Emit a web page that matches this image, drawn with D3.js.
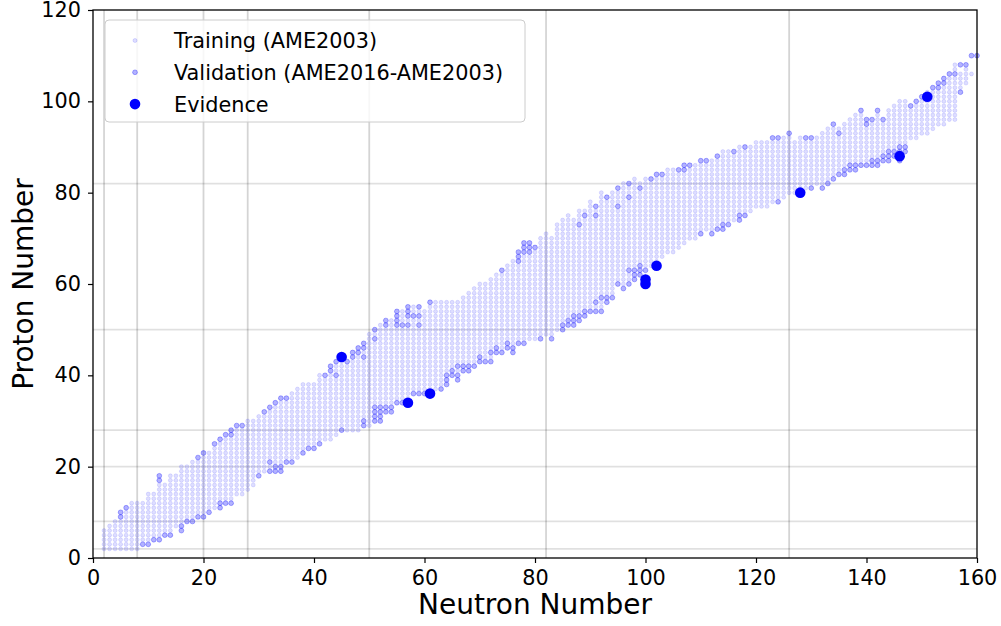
<!DOCTYPE html>
<html>
<head>
<meta charset="utf-8">
<script src="https://cdn.jsdelivr.net/npm/d3@7"></script>
<style>
  body { margin: 0; background: #fff; }
  text { font-family: "DejaVu Sans", sans-serif; }
</style>
</head>
<body>
<div id="chart-area"></div>
<script>
// training band (AME2003): lowest and highest proton number for each neutron number, from N = 2
let trainStartN = 2;
let trainZmin = [
    2, 2, 2, 2, 2, 2, 2, 4, 4, 5, 5, 6, 6, 7, 8, 9, 9, 10, 10, 11,
    11, 13, 13, 13, 14, 14, 15, 16, 19, 19, 20, 21, 21, 22, 22, 22, 24, 25, 25, 26,
    26, 26, 27, 29, 28, 28, 28, 31, 29, 34, 34, 34, 34, 35, 35, 35, 37, 37, 37, 37,
    37, 38, 41, 42, 41, 43, 43, 43, 45, 44, 44, 47, 46, 48, 47, 48, 48, 48, 48, 49,
    49, 49, 50, 52, 53, 54, 54, 55, 55, 55, 55, 58, 58, 61, 60, 61, 64, 65, 64, 64,
    65, 66, 67, 67, 68, 69, 70, 70, 72, 72, 72, 73, 74, 74, 74, 76, 76, 76, 77, 77,
    77, 78, 79, 79, 80, 80, 81, 81, 82, 82, 82, 83, 84, 85, 86, 87, 87, 87, 87, 88,
    88, 89, 90, 90, 91, 91, 92, 92, 93, 93, 94, 95, 95, 96, 96, 103, 104, 106
];
let trainZmax = [
    6, 7, 8, 8, 10, 12, 12, 12, 14, 14, 16, 16, 18, 18, 20, 20, 21, 21, 22, 23,
    24, 25, 26, 26, 28, 28, 30, 30, 31, 31, 32, 33, 34, 34, 36, 37, 38, 38, 38, 40,
    39, 40, 42, 43, 42, 43, 44, 45, 49, 49, 51, 50, 52, 50, 54, 52, 55, 54, 54, 55,
    56, 56, 56, 56, 56, 57, 58, 59, 60, 60, 61, 62, 62, 64, 65, 64, 66, 66, 67, 70,
    71, 70, 73, 74, 75, 74, 76, 76, 78, 76, 80, 78, 80, 80, 82, 81, 83, 82, 83, 82,
    83, 83, 85, 85, 84, 84, 85, 86, 86, 86, 87, 87, 89, 89, 88, 90, 89, 90, 91, 91,
    91, 91, 91, 92, 92, 91, 92, 91, 91, 92, 93, 94, 94, 94, 95, 96, 97, 97, 94, 95,
    97, 95, 98, 99, 100, 100, 98, 99, 100, 102, 102, 102, 103, 105, 108, 106, 107, 106
];

// validation (AME2016-AME2003): [N, Z]
let validation = [
    [5,9],[5,10],[6,11],[12,17],[12,18],[19,22],[20,23],[22,25],[23,26],[24,27],[25,27],[25,28],
    [26,29],[27,29],[31,32],[32,33],[33,34],[34,35],[35,35],[42,40],[43,41],[43,42],[44,40],[44,43],
    [46,43],[47,44],[47,45],[48,45],[48,46],[49,46],[49,47],[49,44],
    [9,3],[10,3],[11,4],[12,4],[13,5],[14,5],[16,6],[16,7],[17,8],[18,8],[19,9],[20,9],[21,10],
    [23,11],[23,12],[24,12],[25,12],[30,18],[32,19],[33,19],[34,19],[33,20],[34,20],[32,21],[35,21],
    [36,21],[38,23],[39,24],[40,24],[41,25],[45,28],[49,29],[49,30],
    [51,50],[51,48],[53,52],[53,51],[55,54],[55,53],[55,52],[55,51],[56,51],[57,51],[57,55],[57,54],
    [57,53],[58,53],[59,53],[59,55],[59,51],[61,56],[74,63],[77,67],[77,66],[77,65],[78,69],[78,68],
    [78,67],[79,69],[79,68],[79,67],[80,68],[88,73],[89,75],[91,77],[91,75],[93,79],[95,81],[95,77],
    [97,82],[97,79],[99,81],[101,83],[102,84],[103,84],[106,85],[107,86],[107,85],[108,86],[110,87],
    [111,87],[113,88],[116,89],[118,90],[123,92],[124,92],[126,93],[129,92],[130,92],
    [134,95],[135,93],[139,98],[140,96],[140,95],[141,96],[142,98],[143,96],[148,99],[149,100],
    [150,101],[152,103],[153,104],[153,103],[154,105],[154,104],[155,106],[156,106],[157,108],
    [158,108],[159,110],[160,110],[157,102],
    [51,33],[51,32],[51,31],[51,30],[52,33],[52,32],[52,31],[52,30],[53,33],[53,32],[54,33],[54,32],
    [55,34],[56,34],[58,36],[59,36],[60,36],[63,37],[64,40],[64,39],[64,38],[65,41],[65,40],[66,42],
    [66,40],[66,39],[67,42],[67,41],[68,42],[68,41],[69,42],[70,44],[70,43],[71,43],[72,43],[72,45],
    [73,46],[73,45],[74,45],[75,47],[75,46],[76,46],[76,45],[77,47],[78,47],[81,48],[83,48],[85,51],
    [85,50],[86,52],[86,51],[87,52],[87,51],[87,53],[88,53],[88,52],[89,54],[89,53],[90,54],[91,54],
    [92,54],[91,56],[92,57],[93,57],[93,56],[94,57],[95,60],[96,59],[97,60],[97,63],[98,63],[99,63],
    [100,63],[99,64],[98,62],[99,62],[98,61],
    [110,71],[112,71],[113,72],[114,72],[114,73],[115,73],[117,74],[117,75],[118,75],[124,78],[130,81],
    [132,81],[133,82],[134,83],[135,84],[136,84],[136,85],[137,85],[137,86],[138,85],[138,86],[139,86],
    [140,86],[141,86],[141,87],[142,86],[142,87],[143,87],[143,88],[144,87],[144,88],[144,89],[145,88],
    [145,89],[146,89],[146,90],[147,89],[147,90],[146,87]
];

// evidence nuclei: [N, Z]
let evidence = [[45,44],[57,34],[61,36],[100,60],[100,61],[102,64],[128,80],[146,88],[151,101]];

// magic numbers drawn as grid lines
let magicN = [2, 8, 20, 28, 50, 82, 126];
let magicZ = [2, 8, 20, 28, 50, 82];

let xTicks = [0, 20, 40, 60, 80, 100, 120, 140, 160];
let yTicks = [0, 20, 40, 60, 80, 100, 120];

let legendLabels = ["Training (AME2003)", "Validation (AME2016-AME2003)", "Evidence"];

let width = 1001, height = 626;
let margin = {top: 10, right: 24, bottom: 68, left: 93};

let svg = d3.select("#chart-area")
        .append("svg")
        .attr("width", width)
        .attr("height", height);

let x = d3.scaleLinear().domain([0, 160]).range([margin.left, width - margin.right]);
let y = d3.scaleLinear().domain([0, 120]).range([height - margin.bottom, margin.top]);

// expand the training band into single nuclides, skipping cells that are validation / evidence
let taken = new Set();
validation.concat(evidence).forEach(d => taken.add(d[0] + "," + d[1]));
let training = [];
trainZmin.forEach((zlo, i) => {
    let n = trainStartN + i;
    for (let z = zlo; z <= trainZmax[i]; z++) {
        if (!taken.has(n + "," + z)) training.push([n, z]);
    }
});

// magic number lines
svg.append("g").selectAll("line")
    .data(magicN)
    .enter()
    .append("line")
    .attr("x1", d => x(d)).attr("x2", d => x(d))
    .attr("y1", y(0)).attr("y2", y(120))
    .attr("stroke", "#000")
    .attr("stroke-opacity", 0.17)
    .attr("stroke-width", 1.8);

svg.append("g").selectAll("line")
    .data(magicZ)
    .enter()
    .append("line")
    .attr("x1", x(0)).attr("x2", x(160))
    .attr("y1", d => y(d)).attr("y2", d => y(d))
    .attr("stroke", "#000")
    .attr("stroke-opacity", 0.12)
    .attr("stroke-width", 1.8);

svg.append("g").selectAll("circle")
    .data(training)
    .enter()
    .append("circle")
    .attr("cx", d => x(d[0]))
    .attr("cy", d => y(d[1]))
    .attr("r", 2)
    .attr("fill", "blue")
    .attr("fill-opacity", 0.13)
    .attr("stroke", "blue")
    .attr("stroke-opacity", 0.13)
    .attr("stroke-width", 0.8);

svg.append("g").selectAll("circle")
    .data(validation)
    .enter()
    .append("circle")
    .attr("cx", d => x(d[0]))
    .attr("cy", d => y(d[1]))
    .attr("r", 2.4)
    .attr("fill", "blue")
    .attr("fill-opacity", 0.3)
    .attr("stroke", "blue")
    .attr("stroke-opacity", 0.3)
    .attr("stroke-width", 1);

svg.append("g").selectAll("circle")
    .data(evidence)
    .enter()
    .append("circle")
    .attr("cx", d => x(d[0]))
    .attr("cy", d => y(d[1]))
    .attr("r", 5.3)
    .attr("fill", "blue");

// axes
let xAxis = svg.append("g")
    .attr("transform", "translate(0," + y(0) + ")")
    .call(d3.axisBottom(x).tickValues(xTicks).tickSize(5).tickPadding(7).tickSizeOuter(0));
let yAxis = svg.append("g")
    .attr("transform", "translate(" + x(0) + ",0)")
    .call(d3.axisLeft(y).tickValues(yTicks).tickSize(5).tickPadding(7).tickSizeOuter(0));
[xAxis, yAxis].forEach(a => {
    a.selectAll("text").style("font-size", "20.8px").attr("fill", "#000");
    a.selectAll("line").attr("stroke", "#000").attr("stroke-width", 1.2);
    a.select(".domain").remove();
});

svg.append("rect")
    .attr("x", x(0)).attr("y", y(120))
    .attr("width", x(160) - x(0)).attr("height", y(0) - y(120))
    .attr("fill", "none")
    .attr("stroke", "#000")
    .attr("stroke-width", 1.3);

svg.append("text")
    .attr("x", (x(0) + x(160)) / 2)
    .attr("y", 614)
    .attr("text-anchor", "middle")
    .style("font-size", "28px")
    .text("Neutron Number");

svg.append("text")
    .attr("transform", "translate(33," + (y(0) + y(120)) / 2 + ") rotate(-90)")
    .attr("text-anchor", "middle")
    .style("font-size", "28px")
    .text("Proton Number");

// legend
let legend = svg.append("g");
legend.append("rect")
    .attr("x", 105).attr("y", 20)
    .attr("width", 420).attr("height", 102)
    .attr("rx", 4)
    .attr("fill", "#fff").attr("fill-opacity", 0.8)
    .attr("stroke", "#ccc").attr("stroke-width", 1);

let legendStyle = [
    {r: 2, op: 0.13},
    {r: 2.4, op: 0.3},
    {r: 5.3, op: 1}
];
legendLabels.forEach((label, i) => {
    let ly = 40.5 + i * 31.8;
    legend.append("circle")
        .attr("cx", 135).attr("cy", ly)
        .attr("r", legendStyle[i].r)
        .attr("fill", "blue").attr("fill-opacity", legendStyle[i].op)
        .attr("stroke", i < 2 ? "blue" : "none")
        .attr("stroke-opacity", legendStyle[i].op);
    legend.append("text")
        .attr("x", 174).attr("y", ly)
        .attr("dy", "0.36em")
        .style("font-size", "20.8px")
        .text(label);
});
</script>
</body>
</html>
